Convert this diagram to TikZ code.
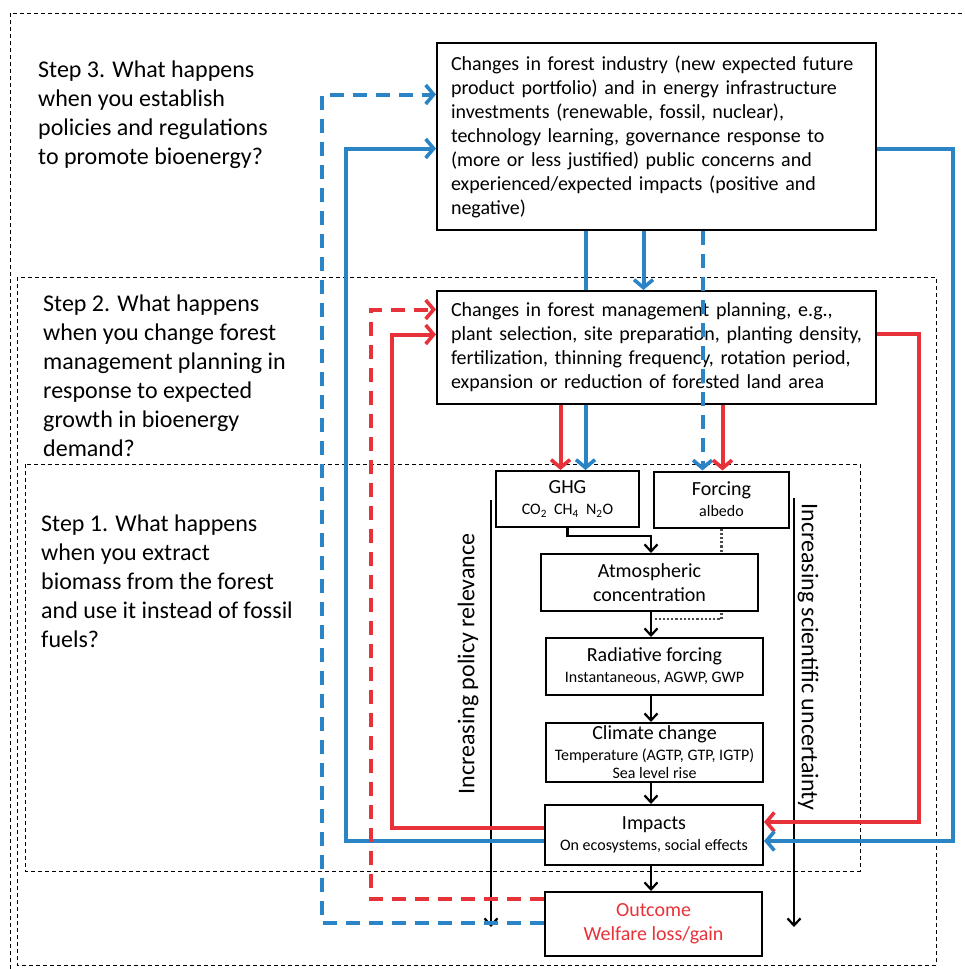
\documentclass[tikz,border=0pt]{standalone}
\usepackage{fontspec}
\setmainfont{Carlito}
\usepackage{xcolor}
\usetikzlibrary{arrows.meta}

\definecolor{fred}{RGB}{232,50,57}
\definecolor{fblue}{RGB}{42,132,198}
\newcommand{\smalltxt}{\fontsize{16}{19}\selectfont}

\begin{document}
\begin{tikzpicture}[x=1pt,y=-1pt,
    frame/.style={draw,line width=1pt,dash pattern=on 4pt off 3pt},
    box/.style={draw,line width=2pt,fill=white,inner sep=0pt,align=center,
      font=\fontsize{20}{24}\selectfont},
    bigbox/.style={box,minimum width=439,minimum height=187,text width=411,align=left},
    steptext/.style={anchor=north west,inner sep=0pt,align=left,font=\fontsize{24}{29}\selectfont},
    sidetext/.style={inner sep=0pt,font=\fontsize{24}{29}\selectfont},
    flow/.style={line width=2.2pt,-{Straight Barb[length=7pt,width=13pt,line width=2.2pt]}},
    redline/.style={fred,line width=4pt,-{Straight Barb[length=8pt,width=19pt,line width=3.6pt]}},
    blueline/.style={fblue,line width=4pt,-{Straight Barb[length=8pt,width=19pt,line width=3.6pt]}},
    longdash/.style={dash pattern=on 14pt off 9pt}]
  \useasboundingbox (0,0) rectangle (964,969);
  % the three step frames
  \draw[frame] (10,969) -- (10,13) -- (964,13);
  \draw[frame] (17,277) rectangle (936,965);
  \draw[frame] (25,464) rectangle (860,871);
  \node (step3) [steptext] at (38,61) {Step 3. What happens\\when you establish\\policies and regulations\\to promote bioenergy?};
  \node (step2) [steptext] at (43,295) {Step 2. What happens\\when you change forest\\management planning in\\response to expected\\growth in bioenergy\\demand?};
  \node (step1) [steptext] at (41,515) {Step 1. What happens\\when you extract\\biomass from the forest\\and use it instead of fossil\\fuels?};
  % side axes
  \coordinate (spine) at (651,0);
  \coordinate (polTop) at (491,500);
  \coordinate (polEnd) at (491,927);
  \coordinate (uncTop) at (794,498);
  \coordinate (uncEnd) at (794,927);
  \draw[flow] (polTop) -- (polEnd);
  \draw[flow] (uncTop) -- (uncEnd);
  \node (policy) [sidetext,rotate=90] at (468,664) {Increasing policy relevance};
  \node (uncert) [sidetext,rotate=-90] at (808,657) {Increasing scientific uncertainty};
  % boxes
  \node (industry) [bigbox] at (656.5,136.5) {Changes in forest industry (new expected future\\product portfolio) and in energy infrastructure\\investments (renewable, fossil, nuclear),\\technology learning, governance response to\\(more or less justified) public concerns and\\experienced/expected impacts (positive and\\negative)};
  \node (ghg) [box,minimum width=143,minimum height=56] at (567.5,499) {GHG\\[-3pt]{\smalltxt CO\textsubscript{2}~~CH\textsubscript{4}~~N\textsubscript{2}O}};
  \node (forcing) [box,minimum width=135,minimum height=56] at (721.5,499.5) {Forcing\\[-3pt]{\smalltxt albedo}};
  \coordinate (g1) at ([xshift=-7]ghg.north);
  \coordinate (g2) at ([xshift=18]ghg.north);
  \coordinate (f1) at ([xshift=-19]forcing.north);
  \coordinate (f2) at ([xshift=1]forcing.north);
  \draw[blueline] (g2 |- industry.south) -- (g2);
  \node (planning) [bigbox,minimum height=113] at (656.5,347.5) {Changes in forest management planning, e.g.,\\plant selection, site preparation, planting density,\\fertilization, thinning frequency, rotation period,\\expansion or reduction of forested land area};
  \coordinate (p1) at ([xshift=-13]planning.north);
  \draw[blueline] (p1 |- industry.south) -- (p1);
  \draw[blueline,longdash] (f1 |- industry.south) -- (f1);
  \draw[redline] (g1 |- planning.south) -- (g1);
  \draw[redline] (f2 |- planning.south) -- (f2);
  % albedo path, behind the concentration box
  \coordinate (dotEnd) at (655,619);
  \draw[line width=2.2pt,dotted,gray!60!black] (forcing.south) |- (dotEnd);
  \node (atmo) [box,minimum width=217,minimum height=57] at (649.5,582.5) {Atmospheric\\concentration};
  \node (radiative) [box,minimum width=217,minimum height=57] at (654.5,666.5) {Radiative forcing\\[-3pt]{\smalltxt Instantaneous, AGWP, GWP}};
  \node (climate) [box,minimum width=217,minimum height=59] at (654.5,752.5) {Climate change\\[-3pt]{\smalltxt Temperature (AGTP, GTP, IGTP)}\\[-6pt]{\smalltxt Sea level rise}};
  \node (impacts) [box,minimum width=218,minimum height=60] at (654,835) {Impacts\\[-3pt]{\smalltxt On ecosystems, social effects}};
  \node (outcome) [box,text=fred,minimum width=217,minimum height=64] at (653.5,924) {Outcome\\Welfare loss/gain};
  % causal chain
  \draw[flow] (ghg.south) -- ++(0,8) -| (spine |- atmo.north);
  \draw[flow] (spine |- atmo.south) -- (spine |- radiative.north);
  \draw[flow] (spine |- radiative.south) -- (spine |- climate.north);
  \draw[flow] (spine |- climate.south) -- (spine |- impacts.north);
  \draw[flow] (spine |- impacts.south) -- (spine |- outcome.north);
  % feedback loops
  \draw[redline] ([yshift=14]planning.east) -- ++(42,0) |- ([yshift=13]impacts.east);
  \draw[blueline] ([yshift=-12]industry.east) -- ++(76,0) |- ([yshift=-6]impacts.east);
  \draw[redline] ([yshift=7]impacts.west) -- ++(-152,0) |- ([yshift=13]planning.west);
  \draw[blueline] ([yshift=-6]impacts.west) -- ++(-198,0) |- ([yshift=-12]industry.west);
  \draw[redline,longdash] ([yshift=25]outcome.west) -- ++(-173,0) |- ([yshift=38]planning.west);
  \draw[blueline,longdash] ([yshift=1]outcome.west) -- ++(-222,0) |- ([yshift=42]industry.west);
\end{tikzpicture}
\end{document}
